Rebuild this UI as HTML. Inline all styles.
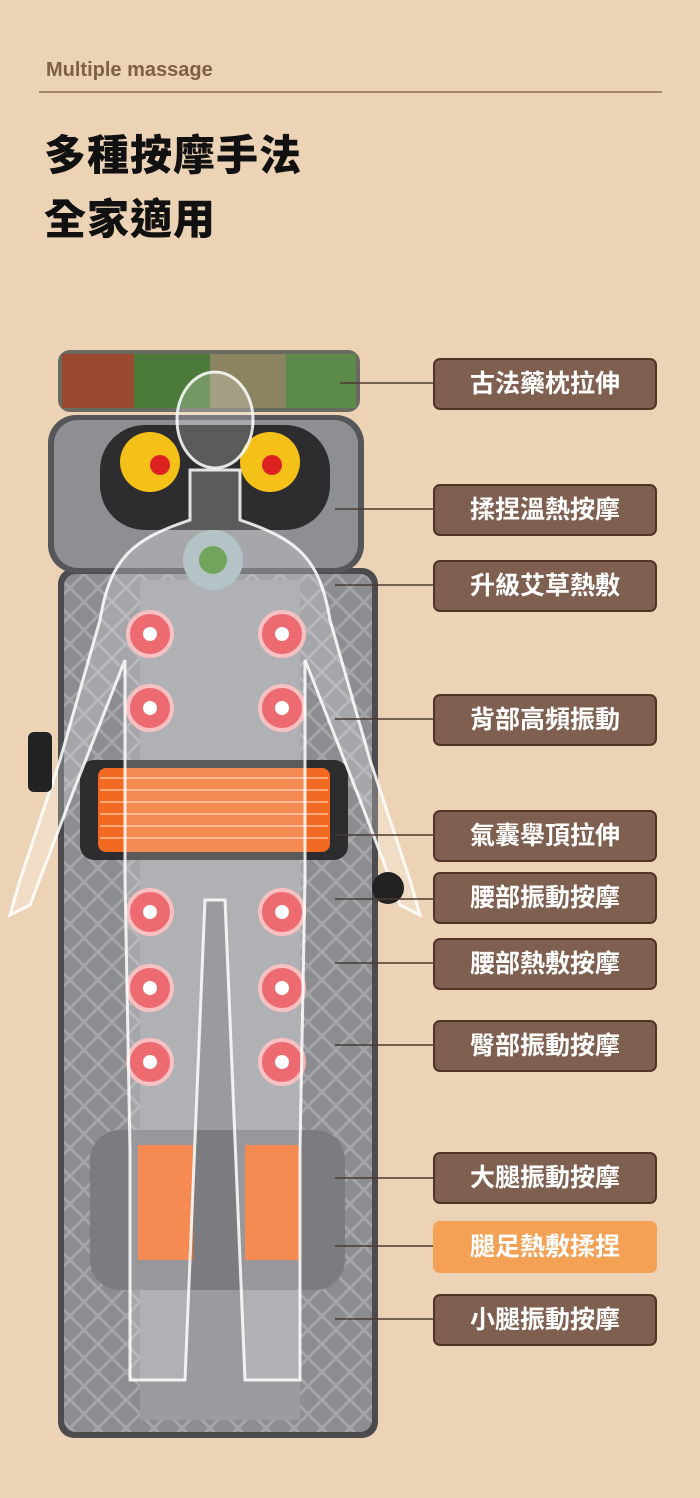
<!DOCTYPE html>
<html><head><meta charset="utf-8"><style>
body{margin:0;background:#EDD3B5;}
.w{position:relative;width:700px;height:1498px;overflow:hidden;font-family:"Liberation Sans","Noto Sans CJK TC",sans-serif;}
.sub{position:absolute;left:46px;top:59px;font-size:20px;color:#7d6048;font-weight:bold;}
.hr{position:absolute;left:39px;top:91px;width:623px;height:2px;background:#a5876a;}
.t{position:absolute;left:44px;font-size:42px;font-weight:900;color:#111;letter-spacing:1px;}
.lb{position:absolute;left:433px;width:220px;height:48px;background:#7f5f4f;border:2px solid #4f3528;border-radius:7px;color:#fff;font-size:25px;font-weight:bold;line-height:48px;text-align:center;letter-spacing:0px;box-sizing:content-box;}
.or{background:#f4a055;border-color:#f4a055;}
</style></head><body><div class="w">
<div class="sub">Multiple massage</div><div class="hr"></div>
<div class="t" style="top:122px">多種按摩手法</div>
<div class="t" style="top:186px">全家適用</div>
<svg width="700" height="1498" style="position:absolute;left:0;top:0">
<defs><pattern id="q" width="28" height="28" patternUnits="userSpaceOnUse"><rect width="28" height="28" fill="#8c8d91"/><path d="M14 0L28 14L14 28L0 14Z" fill="none" stroke="#a4a5a9" stroke-width="3"/></pattern></defs>
<rect x="58" y="350" width="302" height="62" rx="12" fill="#6a6b60"/>
<rect x="62" y="354" width="72" height="54" fill="#9a4a2e"/><rect x="134" y="354" width="76" height="54" fill="#4c7a3a"/><rect x="210" y="354" width="76" height="54" fill="#8a8460"/><rect x="286" y="354" width="70" height="54" fill="#5b8a4a"/>
<rect x="58" y="568" width="320" height="870" rx="16" fill="#4c4c4e"/>
<rect x="64" y="574" width="308" height="858" rx="12" fill="url(#q)"/>
<rect x="140" y="580" width="160" height="840" fill="#9a9b9f"/>
<rect x="48" y="415" width="316" height="158" rx="28" fill="#55565a"/>
<rect x="54" y="420" width="304" height="148" rx="24" fill="#8e8f93"/>
<rect x="100" y="425" width="230" height="105" rx="45" fill="#2d2d2f"/>
<g fill="#f5c018"><circle cx="150" cy="462" r="30"/><circle cx="270" cy="462" r="30"/></g>
<g fill="#d22"><circle cx="160" cy="465" r="10"/><circle cx="272" cy="465" r="10"/></g>
<circle cx="213" cy="560" r="30" fill="#9fb4b7"/><circle cx="213" cy="560" r="14" fill="#4d8a2e"/>
<rect x="80" y="760" width="268" height="100" rx="14" fill="#2d2d2f"/>
<rect x="98" y="768" width="232" height="84" rx="8" fill="#f26a22"/>
<g stroke="#fca97a" stroke-width="2">
<line x1="100" y1="778" x2="328" y2="778"/><line x1="100" y1="790" x2="328" y2="790"/><line x1="100" y1="802" x2="328" y2="802"/><line x1="100" y1="814" x2="328" y2="814"/><line x1="100" y1="826" x2="328" y2="826"/><line x1="100" y1="838" x2="328" y2="838"/></g>
<rect x="90" y="1130" width="255" height="160" rx="30" fill="#7b7c80"/>
<rect x="138" y="1145" width="55" height="115" fill="#f26a22"/><rect x="245" y="1145" width="55" height="115" fill="#f26a22"/>
<g fill="#e8404a" stroke="#f6b0b0" stroke-width="4">
<circle cx="150" cy="634" r="22"/><circle cx="282" cy="634" r="22"/><circle cx="150" cy="708" r="22"/><circle cx="282" cy="708" r="22"/>
<circle cx="150" cy="912" r="22"/><circle cx="282" cy="912" r="22"/><circle cx="150" cy="988" r="22"/><circle cx="282" cy="988" r="22"/><circle cx="150" cy="1062" r="22"/><circle cx="282" cy="1062" r="22"/></g>
<g fill="#fff"><circle cx="150" cy="634" r="7"/><circle cx="282" cy="634" r="7"/><circle cx="150" cy="708" r="7"/><circle cx="282" cy="708" r="7"/><circle cx="150" cy="912" r="7"/><circle cx="282" cy="912" r="7"/><circle cx="150" cy="988" r="7"/><circle cx="282" cy="988" r="7"/><circle cx="150" cy="1062" r="7"/><circle cx="282" cy="1062" r="7"/></g>
<g fill="rgba(255,255,255,0.22)" stroke="rgba(255,255,255,0.85)" stroke-width="3">
<ellipse cx="215" cy="420" rx="38" ry="48"/>
<path d="M190 470 L190 520 C130 540 110 560 100 620 L60 760 L20 880 L10 915 L30 905 L70 800 L125 660 L125 880 L130 1150 L130 1380 L185 1380 L205 900 L225 900 L245 1380 L300 1380 L300 1150 L305 880 L305 660 L360 800 L400 905 L420 915 L410 880 L370 760 L330 620 C320 560 300 540 240 520 L240 470 Z"/>
</g>
<rect x="28" y="732" width="24" height="60" rx="6" fill="#222"/>
<circle cx="388" cy="888" r="16" fill="#222"/>
<g stroke="#4a3a30" stroke-width="1.5">
<line x1="340" y1="383" x2="433" y2="383"/><line x1="335" y1="509" x2="433" y2="509"/><line x1="335" y1="585" x2="433" y2="585"/><line x1="335" y1="719" x2="433" y2="719"/><line x1="335" y1="835" x2="433" y2="835"/><line x1="335" y1="899" x2="433" y2="899"/><line x1="335" y1="963" x2="433" y2="963"/><line x1="335" y1="1045" x2="433" y2="1045"/><line x1="335" y1="1178" x2="433" y2="1178"/><line x1="335" y1="1246" x2="433" y2="1246"/><line x1="335" y1="1319" x2="433" y2="1319"/></g>
</svg>
<div class="lb" style="top:358px">古法藥枕拉伸</div>
<div class="lb" style="top:484px">揉捏溫熱按摩</div>
<div class="lb" style="top:560px">升級艾草熱敷</div>
<div class="lb" style="top:694px">背部高頻振動</div>
<div class="lb" style="top:810px">氣囊舉頂拉伸</div>
<div class="lb" style="top:872px">腰部振動按摩</div>
<div class="lb" style="top:938px">腰部熱敷按摩</div>
<div class="lb" style="top:1020px">臀部振動按摩</div>
<div class="lb" style="top:1152px">大腿振動按摩</div>
<div class="lb or" style="top:1221px">腿足熱敷揉捏</div>
<div class="lb" style="top:1294px">小腿振動按摩</div>
</div></body></html>
